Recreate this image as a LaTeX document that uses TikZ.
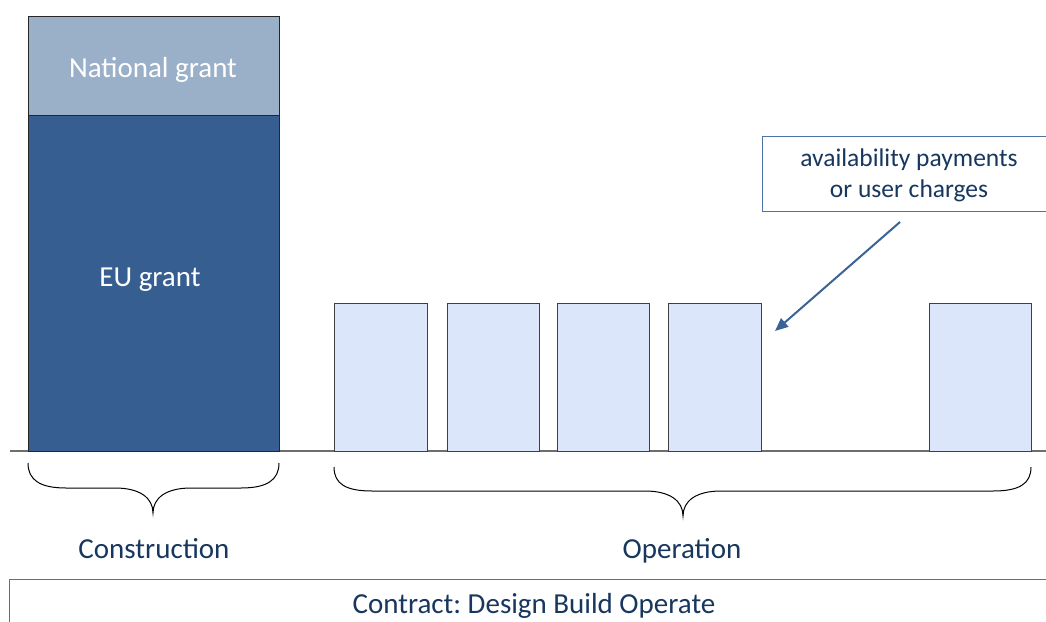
\documentclass[tikz,border=0pt]{standalone}
\usepackage{fontspec}
\setmainfont{Carlito}
\frenchspacing
\usetikzlibrary{arrows.meta}
\definecolor{navy}{HTML}{17375E}
\definecolor{natfill}{HTML}{9AAFC8}
\definecolor{eufill}{HTML}{365E91}
\definecolor{opfill}{HTML}{DCE6FA}
\definecolor{boxline}{HTML}{4F72A6}
\definecolor{arrowcol}{HTML}{3A6396}
\definecolor{axiscol}{HTML}{6E6E6E}
\tikzset{
  bar/.style={draw=black!85, line width=1pt, inner sep=0pt, outer sep=0pt, anchor=north west},
  opbar/.style={bar, fill=opfill, draw=black!75, minimum height=148pt},
  whitelbl/.style={text=white, font=\fontsize{29}{34}\selectfont, anchor=base, inner sep=0pt},
  navylbl/.style={text=navy, font=\fontsize{29}{34}\selectfont, anchor=base, inner sep=0pt},
  smalllbl/.style={text=navy, font=\fontsize{25.5}{31}\selectfont, anchor=base, inner sep=0pt},
  bracecurve/.style={draw=black, line width=1pt},
}
\begin{document}
\begin{tikzpicture}[x=1pt,y=-1pt]
\useasboundingbox (0,0) rectangle (1046,621);
\clip (0,0) rectangle (1046,621);
\fill[white] (0,0) rectangle (1046,621);
% axis
\coordinate (axL) at (10,451);
\coordinate (axR) at (1046,451);
\draw[axiscol, line width=1.2pt] (axL) -- (axR);
% construction column
\node[bar, fill=natfill, minimum width=251pt, minimum height=99pt] (nat) at (28,16) {};
\node[bar, fill=eufill, minimum width=251pt, minimum height=336pt] (eu) at (28,115) {};
\node[whitelbl] (natlbl) at (153,77) {National grant};
\node[whitelbl] (eulbl) at (150,286) {EU grant};
% operation bars
\node[opbar, minimum width=93pt] (op1) at (334,303) {};
\node[opbar, minimum width=92pt] (op2) at (447,303) {};
\node[opbar, minimum width=92pt] (op3) at (557,303) {};
\node[opbar, minimum width=93pt] (op4) at (668,303) {};
\node[opbar, minimum width=102pt] (op5) at (929,303) {};
% callout box
\node[draw=boxline, line width=1pt, fill=white, anchor=north west, inner sep=0pt,
      minimum width=294pt, minimum height=75pt] (callout) at (762,136) {};
\node[smalllbl] (cl1) at (909,166) {availability payments};
\node[smalllbl] (cl2) at (909,197) {or user charges};
\coordinate (arrS) at (900,222);
\coordinate (arrE) at (775,331);
\draw[arrowcol, line width=2pt, -{Triangle[length=13pt,width=11pt]}] (arrS) -- (arrE);
% braces
\draw[bracecurve] (28,463) .. controls (28,480) and (40,488) .. (66,488)
   -- (115,488) .. controls (140,488) and (153,498) .. (153,513)
   .. controls (153,498) and (166,488) .. (191,488)
   -- (241,488) .. controls (267,488) and (279,480) .. (279,463);
\draw[bracecurve] (334,467) .. controls (334,484) and (346,491) .. (372,491)
   -- (645,491) .. controls (670,491) and (683,501) .. (683,516)
   .. controls (683,501) and (696,491) .. (721,491)
   -- (993,491) .. controls (1019,491) and (1031,484) .. (1031,467);
\node[navylbl] (constr) at (154,558) {Construction};
\node[navylbl] (oper) at (682,558) {Operation};
% contract box
\node[draw=boxline, line width=1pt, anchor=north west, inner sep=0pt,
      minimum width=1060pt, minimum height=80pt] (contract) at (9,579) {};
\node[navylbl] (contractlbl) at (534,613) {Contract: Design Build Operate};
\end{tikzpicture}
\end{document}
